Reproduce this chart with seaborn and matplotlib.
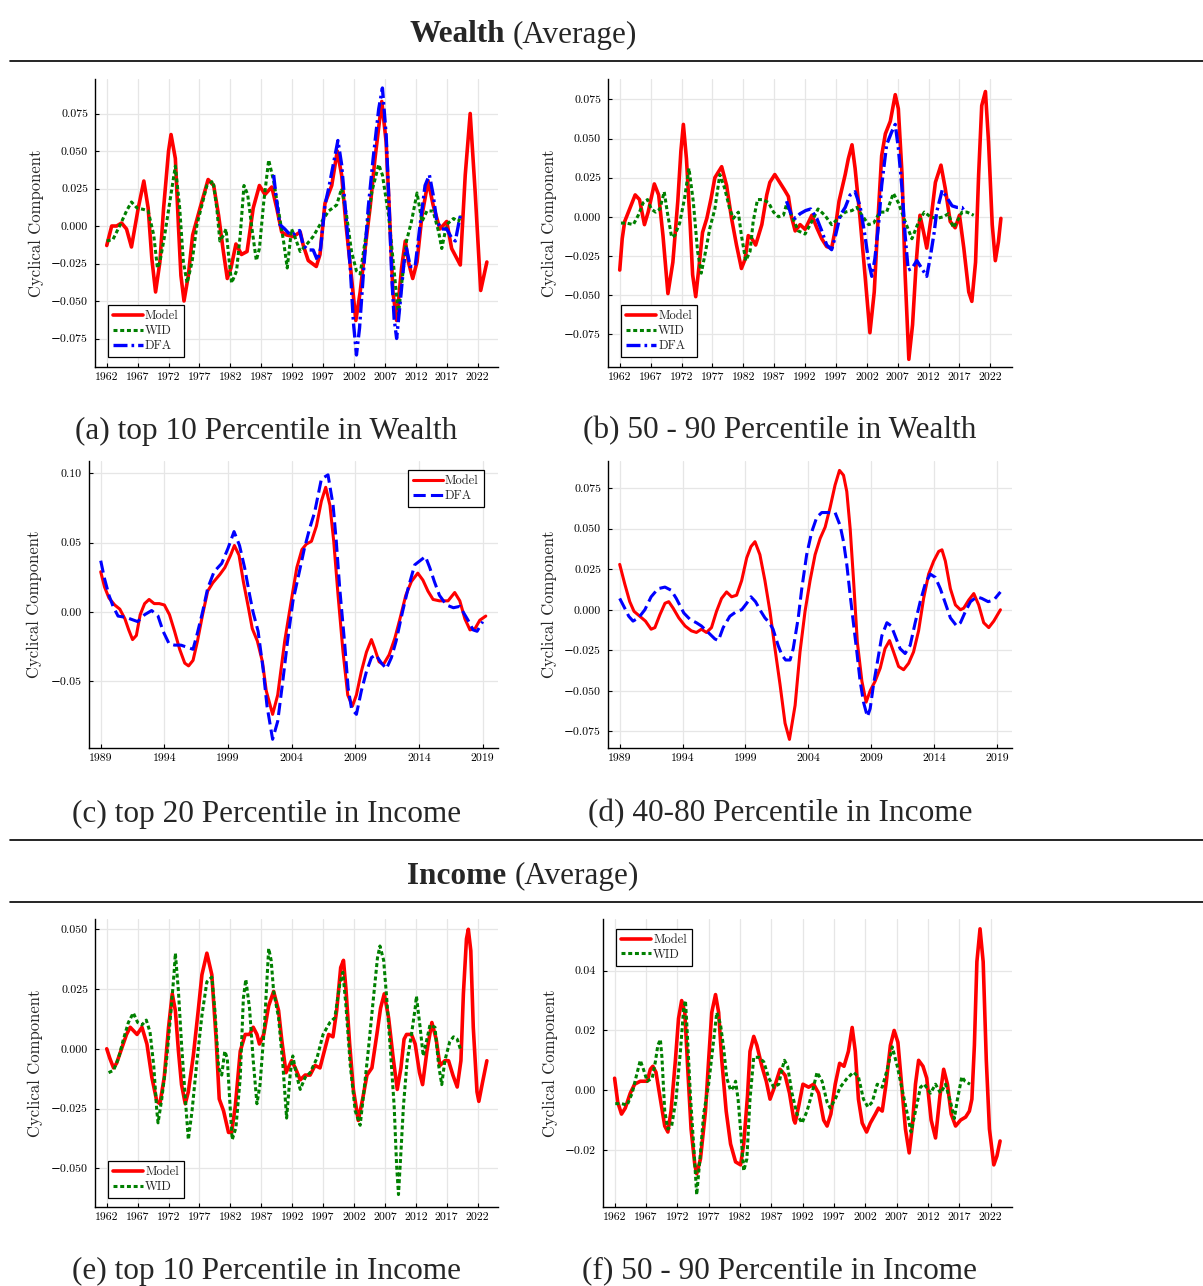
import numpy as np
import matplotlib
matplotlib.use("Agg")
import matplotlib.pyplot as plt
import seaborn as sns
from matplotlib.lines import Line2D
from matplotlib.ticker import FixedLocator, FuncFormatter

# ---------------- data ----------------
# (a) top 10 percentile in wealth
A_MODEL_YR = [1962, 1962.8, 1963.6, 1964.4, 1965.2, 1966.0, 1967.1, 1968.0, 1968.7, 1969.3, 1969.9, 1970.6, 1971.2, 1972.0, 1972.4, 1973.1, 1973.6, 1974.0, 1974.5, 1975.2, 1975.9, 1977.1, 1978.4, 1979.3, 1980.1, 1980.8, 1981.5, 1982.1, 1982.9, 1983.8, 1984.7, 1985.7, 1986.7, 1987.6, 1988.7, 1989.5, 1990.3, 1991.1, 1992.2, 1993.3, 1993.8, 1994.6, 1995.9, 1996.5, 1997.3, 1998.4, 1999.3, 2000.0, 2000.7, 2001.5, 2002.3, 2003.0, 2003.8, 2004.6, 2005.4, 2006.5, 2007.2, 2007.7, 2008.3, 2008.9, 2009.7, 2010.3, 2010.8, 2011.5, 2012.2, 2013.0, 2014.0, 2014.8, 2015.9, 2017.0, 2017.8, 2019.2, 2020.0, 2020.8, 2021.6, 2022.5, 2023.5]
A_MODEL = [-0.013, 0.000, 0.000, 0.002, -0.002, -0.014, 0.012, 0.030, 0.012, -0.022, -0.044, -0.024, 0.012, 0.050, 0.061, 0.045, 0.000, -0.033, -0.050, -0.033, -0.006, 0.012, 0.031, 0.027, 0.007, -0.015, -0.035, -0.028, -0.012, -0.019, -0.017, 0.012, 0.027, 0.021, 0.026, 0.012, -0.004, -0.006, -0.007, -0.004, -0.013, -0.023, -0.027, -0.019, 0.015, 0.027, 0.050, 0.034, 0.001, -0.030, -0.063, -0.044, -0.015, 0.012, 0.045, 0.083, 0.056, 0.012, -0.044, -0.063, -0.028, -0.010, -0.024, -0.035, -0.024, 0.007, 0.030, 0.014, -0.002, 0.003, -0.015, -0.026, 0.034, 0.075, 0.023, -0.043, -0.024]
A_WID_YR = [1962, 1963, 1964.2, 1965.2, 1966, 1966.9, 1968, 1968.7, 1969.6, 1970.2, 1970.6, 1971.3, 1972.2, 1973.1, 1973.8, 1974.4, 1975, 1975.8, 1976.6, 1977.4, 1978.2, 1979.2, 1979.8, 1980.3, 1980.9, 1981.3, 1981.7, 1982.2, 1983, 1983.6, 1984.2, 1984.8, 1985.5, 1986.2, 1986.7, 1987.4, 1988.2, 1989.0, 1989.8, 1990.6, 1991.2, 1991.9, 1992.5, 1993.3, 1994.4, 1995.4, 1996.8, 1997.9, 1999.2, 2000.0, 2000.8, 2001.6, 2002.4, 2003.0, 2003.8, 2004.9, 2006.0, 2006.6, 2007.6, 2008.4, 2009.2, 2009.7, 2010.5, 2011.3, 2012.2, 2013.0, 2013.8, 2014.8, 2015.7, 2016.2, 2017.0, 2018.1, 2018.9, 2019.3]
A_WID = [-0.010, -0.009, 0.001, 0.010, 0.016, 0.012, 0.011, 0.010, -0.006, -0.028, -0.024, -0.008, 0.016, 0.040, 0.012, -0.024, -0.038, -0.024, 0.001, 0.014, 0.027, 0.030, 0.012, -0.010, -0.006, -0.002, -0.019, -0.038, -0.030, -0.006, 0.027, 0.021, -0.002, -0.023, -0.015, 0.016, 0.044, 0.030, 0.010, -0.010, -0.028, -0.002, -0.008, -0.017, -0.012, -0.007, 0.003, 0.010, 0.014, 0.025, 0.007, -0.017, -0.030, -0.032, -0.010, 0.023, 0.041, 0.034, 0.007, -0.026, -0.059, -0.039, -0.010, 0.003, 0.022, 0.003, 0.010, 0.010, -0.004, -0.015, 0.001, 0.005, 0.003, 0.007]
A_DFA_YR = [1989.0, 1989.5, 1990.0, 1990.8, 1991.7, 1992.5, 1993.2, 1993.8, 1994.6, 1995.4, 1996.1, 1996.6, 1997.3, 1997.9, 1998.7, 1999.4, 2000.0, 2000.7, 2001.4, 2001.9, 2002.4, 2002.9, 2003.5, 2004.3, 2005.1, 2006.0, 2006.6, 2007.2, 2007.7, 2008.1, 2008.5, 2008.9, 2009.5, 2010.1, 2010.5, 2011.1, 2011.9, 2012.7, 2013.5, 2014.2, 2014.8, 2015.4, 2016.2, 2017.0, 2017.8, 2018.4, 2019.1, 2019.3]
A_DFA = [0.034, 0.016, 0.001, -0.002, -0.006, -0.005, -0.003, -0.013, -0.016, -0.016, -0.023, -0.015, 0.014, 0.025, 0.042, 0.057, 0.041, 0.007, -0.028, -0.064, -0.086, -0.068, -0.033, 0.012, 0.045, 0.078, 0.092, 0.061, 0.012, -0.033, -0.062, -0.075, -0.050, -0.024, -0.015, -0.027, -0.027, 0.001, 0.027, 0.034, 0.021, 0.003, -0.002, -0.002, -0.008, -0.010, 0.005, 0.008]

# (b) 50 - 90 percentile in wealth
B_MODEL_YR = [1962.0, 1962.4, 1962.8, 1963.6, 1964.5, 1965.2, 1966.0, 1966.6, 1967.6, 1968.3, 1969.0, 1969.8, 1970.6, 1971.4, 1971.9, 1972.3, 1972.8, 1973.4, 1973.8, 1974.3, 1974.8, 1975.4, 1976.1, 1976.8, 1977.4, 1978.5, 1979.3, 1980.1, 1980.9, 1981.7, 1982.3, 1982.8, 1983.4, 1984.0, 1985.0, 1985.8, 1986.3, 1987.1, 1987.9, 1988.7, 1989.3, 1989.8, 1990.4, 1991.2, 1992.0, 1993.1, 1993.9, 1994.7, 1995.5, 1996.3, 1996.8, 1997.5, 1998.5, 1999.0, 1999.6, 2000.1, 2000.9, 2001.7, 2002.5, 2003.2, 2003.9, 2004.4, 2005.0, 2005.8, 2006.6, 2007.1, 2007.7, 2008.2, 2008.8, 2009.4, 2010.0, 2010.6, 2011.2, 2011.7, 2012.4, 2013.1, 2014.0, 2014.7, 2015.5, 2016.3, 2017.0, 2017.7, 2018.5, 2019.0, 2019.6, 2020.1, 2020.6, 2021.2, 2021.7, 2022.3, 2022.8, 2023.3, 2023.7]
B_MODEL = [-0.034, -0.014, -0.003, 0.005, 0.014, 0.011, -0.005, 0.003, 0.021, 0.014, -0.012, -0.049, -0.029, 0.010, 0.042, 0.059, 0.037, -0.005, -0.037, -0.051, -0.033, -0.010, -0.001, 0.012, 0.025, 0.032, 0.020, -0.001, -0.018, -0.033, -0.027, -0.012, -0.014, -0.018, -0.005, 0.014, 0.022, 0.027, 0.022, 0.017, 0.013, 0.000, -0.009, -0.005, -0.008, 0.001, -0.007, -0.014, -0.019, -0.020, -0.010, 0.010, 0.027, 0.037, 0.046, 0.031, -0.001, -0.037, -0.074, -0.048, 0.005, 0.039, 0.053, 0.061, 0.078, 0.069, 0.027, -0.037, -0.091, -0.069, -0.029, 0.001, -0.010, -0.020, -0.001, 0.022, 0.033, 0.018, -0.003, -0.007, 0.001, -0.020, -0.048, -0.054, -0.029, 0.027, 0.071, 0.080, 0.048, -0.005, -0.028, -0.016, -0.001]
B_WID_YR = [1962.2, 1963.1, 1964.2, 1965.0, 1965.8, 1966.5, 1967.1, 1967.8, 1968.5, 1969.2, 1969.7, 1970.4, 1970.9, 1971.7, 1972.5, 1973.2, 1973.9, 1974.6, 1975.2, 1975.9, 1976.6, 1977.4, 1978.2, 1979.0, 1979.8, 1980.4, 1981.2, 1981.7, 1982.4, 1983.1, 1983.6, 1984.3, 1985.2, 1986.1, 1986.9, 1987.7, 1988.5, 1989.0, 1989.8, 1990.9, 1992.0, 1993.1, 1994.1, 1995.2, 1996.3, 1997.4, 1998.5, 1999.6, 2000.4, 2001.2, 2002.3, 2003.1, 2004.1, 2005.2, 2006.3, 2007.1, 2008.2, 2009.3, 2010.4, 2011.3, 2012.3, 2013.3, 2014.4, 2015.2, 2016.0, 2016.9, 2017.4, 2018.2, 2019.3]
B_WID = [-0.004, -0.004, -0.005, 0.001, 0.009, 0.011, 0.005, 0.003, 0.005, 0.016, 0.003, -0.013, -0.012, -0.004, 0.012, 0.031, 0.010, -0.022, -0.036, -0.022, -0.007, 0.005, 0.027, 0.018, 0.005, -0.001, 0.003, -0.012, -0.028, -0.022, -0.003, 0.011, 0.011, 0.009, 0.003, 0.000, 0.001, 0.008, 0.001, -0.009, -0.011, -0.003, 0.005, 0.001, -0.005, -0.001, 0.003, 0.004, 0.006, 0.001, -0.005, -0.004, 0.003, 0.003, 0.015, 0.009, -0.003, -0.014, -0.003, 0.003, 0.000, -0.001, 0.000, 0.002, -0.007, -0.001, 0.003, 0.003, 0.001]
B_DFA_YR = [1989.0, 1989.8, 1990.4, 1991.2, 1992.1, 1992.9, 1993.9, 1994.7, 1995.5, 1996.3, 1996.8, 1997.7, 1998.5, 1999.3, 2000.1, 2000.9, 2001.7, 2002.3, 2002.8, 2003.3, 2003.9, 2004.4, 2005.2, 2006.0, 2006.6, 2007.1, 2007.7, 2008.2, 2008.7, 2009.3, 2010.1, 2010.9, 2011.7, 2012.3, 2012.9, 2013.3, 2014.2, 2015.0, 2015.8, 2016.6, 2017.4, 2017.9]
B_DFA = [0.010, 0.001, -0.001, 0.002, 0.004, 0.005, -0.001, -0.009, -0.018, -0.021, -0.014, 0.001, 0.006, 0.014, 0.016, 0.007, -0.012, -0.029, -0.038, -0.027, -0.005, 0.020, 0.046, 0.054, 0.059, 0.044, 0.018, -0.012, -0.034, -0.033, -0.028, -0.033, -0.038, -0.025, -0.010, 0.003, 0.017, 0.012, 0.007, 0.006, 0.006, 0.003]

# (c) top 20 percentile in income
C_MODEL_YR = [1989.0, 1989.3, 1989.65, 1990.1, 1990.5, 1990.9, 1991.2, 1991.5, 1991.8, 1992.1, 1992.45, 1992.8, 1993.2, 1993.6, 1994.0, 1994.4, 1994.8, 1995.2, 1995.6, 1995.9, 1996.25, 1996.6, 1997.0, 1997.4, 1997.8, 1998.35, 1998.75, 1999.2, 1999.5, 1999.86, 2000.2, 2000.6, 2000.9, 2001.3, 2001.7, 2002.0, 2002.5, 2002.9, 2003.45, 2004.0, 2004.4, 2004.8, 2005.15, 2005.55, 2005.94, 2006.33, 2006.67, 2007.0, 2007.3, 2007.64, 2008.03, 2008.4, 2008.77, 2009.08, 2009.47, 2009.87, 2010.26, 2010.5, 2010.86, 2011.2, 2011.65, 2012.1, 2012.5, 2012.96, 2013.4, 2013.9, 2014.3, 2014.7, 2015.1, 2015.6, 2016.28, 2016.8, 2017.2, 2017.6, 2018.0, 2018.4, 2018.77, 2019.24]
C_MODEL = [0.029, 0.018, 0.010, 0.005, 0.002, -0.005, -0.013, -0.020, -0.017, -0.002, 0.006, 0.009, 0.006, 0.006, 0.005, -0.002, -0.014, -0.027, -0.037, -0.039, -0.035, -0.021, -0.002, 0.015, 0.021, 0.027, 0.032, 0.041, 0.048, 0.041, 0.022, 0.003, -0.012, -0.021, -0.036, -0.057, -0.074, -0.060, -0.021, 0.010, 0.032, 0.045, 0.049, 0.051, 0.062, 0.080, 0.090, 0.077, 0.051, 0.012, -0.029, -0.060, -0.068, -0.060, -0.043, -0.029, -0.020, -0.026, -0.036, -0.038, -0.031, -0.019, -0.005, 0.012, 0.022, 0.028, 0.023, 0.015, 0.009, 0.008, 0.008, 0.014, 0.008, -0.005, -0.013, -0.012, -0.006, -0.003]
C_DFA_YR = [1989.0, 1989.3, 1989.65, 1989.97, 1990.36, 1991.0, 1991.9, 1992.45, 1993.0, 1993.5, 1993.9, 1994.37, 1994.8, 1995.3, 1996.25, 1996.6, 1997.0, 1997.4, 1997.9, 1998.5, 1999.0, 1999.47, 1999.9, 2000.3, 2000.7, 2000.96, 2001.36, 2001.75, 2002.06, 2002.5, 2002.9, 2003.3, 2003.7, 2004.1, 2004.6, 2005.0, 2005.4, 2005.8, 2006.33, 2006.85, 2007.25, 2007.5, 2007.77, 2008.17, 2008.43, 2008.7, 2009.08, 2009.47, 2009.87, 2010.26, 2010.6, 2011.05, 2011.44, 2011.83, 2012.2, 2012.7, 2013.14, 2013.66, 2014.5, 2014.84, 2015.2, 2015.6, 2016.15, 2016.7, 2017.2, 2017.85, 2018.24, 2018.56, 2019.0]
C_DFA = [0.037, 0.024, 0.012, 0.004, -0.003, -0.004, -0.007, -0.002, 0.001, -0.003, -0.014, -0.023, -0.024, -0.024, -0.027, -0.015, 0.000, 0.017, 0.029, 0.035, 0.046, 0.058, 0.048, 0.032, 0.012, 0.000, -0.014, -0.041, -0.068, -0.092, -0.079, -0.050, -0.019, 0.008, 0.029, 0.046, 0.060, 0.072, 0.096, 0.099, 0.077, 0.051, 0.017, -0.024, -0.055, -0.070, -0.074, -0.057, -0.043, -0.033, -0.031, -0.037, -0.041, -0.033, -0.021, 0.000, 0.017, 0.034, 0.040, 0.032, 0.022, 0.012, 0.005, 0.003, 0.004, -0.006, -0.013, -0.014, -0.007]

# (d) 40-80 percentile in income
D_MODEL_YR = [1989.0, 1989.4, 1989.8, 1990.14, 1990.6, 1991.05, 1991.5, 1991.8, 1992.2, 1992.6, 1992.9, 1993.25, 1993.7, 1994.2, 1994.7, 1995.1, 1995.5, 1995.9, 1996.3, 1996.7, 1997.1, 1997.5, 1997.9, 1998.3, 1998.7, 1999.1, 1999.44, 1999.76, 2000.15, 2000.55, 2000.95, 2001.35, 2001.75, 2002.15, 2002.5, 2002.95, 2003.34, 2003.74, 2004.14, 2004.54, 2004.94, 2005.34, 2005.73, 2006.13, 2006.48, 2006.8, 2007.06, 2007.33, 2007.6, 2007.9, 2008.26, 2008.6, 2008.92, 2009.32, 2009.72, 2010.1, 2010.46, 2010.78, 2011.18, 2011.58, 2011.98, 2012.37, 2012.77, 2013.17, 2013.57, 2013.97, 2014.37, 2014.63, 2014.9, 2015.3, 2015.7, 2016.1, 2016.36, 2016.76, 2017.16, 2017.55, 2017.95, 2018.35, 2018.75, 2019.28]
D_MODEL = [0.028, 0.016, 0.005, -0.001, -0.004, -0.007, -0.012, -0.011, -0.003, 0.004, 0.005, 0.001, -0.005, -0.010, -0.013, -0.014, -0.012, -0.014, -0.011, -0.001, 0.007, 0.011, 0.008, 0.009, 0.018, 0.032, 0.039, 0.042, 0.034, 0.018, -0.001, -0.024, -0.046, -0.070, -0.080, -0.059, -0.026, -0.001, 0.018, 0.034, 0.044, 0.051, 0.063, 0.077, 0.086, 0.083, 0.073, 0.050, 0.018, -0.020, -0.044, -0.057, -0.050, -0.044, -0.036, -0.024, -0.019, -0.026, -0.035, -0.037, -0.033, -0.026, -0.013, 0.007, 0.022, 0.030, 0.036, 0.037, 0.030, 0.013, 0.003, 0.000, 0.001, 0.006, 0.010, 0.003, -0.008, -0.011, -0.007, 0.000]
D_DFA_YR = [1989.0, 1989.4, 1989.72, 1990.06, 1990.5, 1991.0, 1991.5, 1992.05, 1992.6, 1993.1, 1993.5, 1994.1, 1994.6, 1995.1, 1995.5, 1996.04, 1996.57, 1996.85, 1997.23, 1997.76, 1998.3, 1998.7, 1999.1, 1999.44, 1999.8, 2000.23, 2000.55, 2000.9, 2001.2, 2001.6, 2001.9, 2002.2, 2002.55, 2002.8, 2003.2, 2003.48, 2003.87, 2004.27, 2004.67, 2005.07, 2005.6, 2006.13, 2006.53, 2006.8, 2007.06, 2007.33, 2007.6, 2007.86, 2008.12, 2008.39, 2008.7, 2008.92, 2009.19, 2009.5, 2009.85, 2010.25, 2010.6, 2010.9, 2011.3, 2011.7, 2012.1, 2012.5, 2012.9, 2013.3, 2013.7, 2014.1, 2014.5, 2014.9, 2015.3, 2015.8, 2016.1, 2016.5, 2016.9, 2017.4, 2017.8, 2018.3, 2018.75, 2019.28]
D_DFA = [0.007, 0.001, -0.004, -0.007, -0.005, 0.000, 0.008, 0.013, 0.014, 0.012, 0.007, -0.002, -0.006, -0.008, -0.010, -0.014, -0.018, -0.019, -0.011, -0.004, -0.001, 0.000, 0.004, 0.008, 0.005, -0.001, -0.005, -0.008, -0.012, -0.022, -0.028, -0.031, -0.031, -0.024, -0.005, 0.013, 0.034, 0.048, 0.057, 0.060, 0.060, 0.060, 0.052, 0.042, 0.028, 0.009, -0.009, -0.026, -0.044, -0.057, -0.066, -0.061, -0.046, -0.032, -0.016, -0.008, -0.010, -0.016, -0.024, -0.027, -0.022, -0.008, 0.005, 0.016, 0.022, 0.020, 0.013, 0.004, -0.005, -0.010, -0.008, -0.001, 0.005, 0.008, 0.007, 0.005, 0.006, 0.011]

# (e) top 10 percentile in income
E_MODEL_YR = [1962.0, 1962.5, 1963.1, 1963.6, 1964.4, 1965.2, 1965.8, 1966.9, 1967.7, 1968.5, 1969.3, 1970.1, 1970.6, 1971.3, 1972.0, 1972.6, 1973.1, 1973.6, 1974.1, 1974.7, 1975.2, 1976.0, 1976.8, 1977.4, 1978.2, 1979.0, 1979.7, 1980.2, 1980.9, 1981.7, 1982.2, 1982.8, 1983.6, 1984.4, 1985.1, 1985.7, 1986.3, 1986.7, 1987.4, 1988.2, 1989.0, 1989.8, 1990.3, 1991.0, 1991.9, 1992.5, 1993.3, 1994.1, 1994.9, 1995.7, 1996.5, 1997.3, 1997.9, 1998.6, 1999.2, 1999.85, 2000.3, 2000.7, 2001.3, 2001.9, 2002.7, 2003.4, 2004.1, 2004.9, 2005.7, 2006.3, 2006.9, 2007.6, 2008.3, 2009.0, 2009.6, 2010.1, 2010.5, 2011.3, 2011.9, 2012.6, 2013.1, 2013.8, 2014.6, 2015.3, 2015.9, 2016.7, 2017.3, 2018.0, 2018.7, 2019.3, 2019.7, 2020.2, 2020.5, 2020.9, 2021.3, 2021.9, 2022.2, 2022.8, 2023.5]
E_MODEL = [0.000, -0.004, -0.008, -0.006, 0.000, 0.006, 0.009, 0.006, 0.009, 0.002, -0.012, -0.022, -0.023, -0.012, 0.009, 0.023, 0.016, -0.001, -0.015, -0.023, -0.018, -0.003, 0.016, 0.031, 0.040, 0.031, 0.004, -0.021, -0.026, -0.035, -0.035, -0.024, -0.001, 0.006, 0.006, 0.009, 0.006, 0.002, 0.006, 0.018, 0.024, 0.016, 0.004, -0.010, -0.005, -0.008, -0.013, -0.011, -0.011, -0.007, -0.008, 0.000, 0.006, 0.005, 0.016, 0.034, 0.037, 0.025, 0.002, -0.017, -0.030, -0.021, -0.011, -0.008, 0.006, 0.017, 0.023, 0.013, -0.003, -0.017, -0.008, 0.004, 0.006, 0.006, 0.002, -0.010, -0.015, -0.001, 0.011, 0.004, -0.007, -0.005, -0.005, -0.011, -0.016, -0.005, 0.023, 0.046, 0.050, 0.041, 0.009, -0.018, -0.022, -0.014, -0.005]
E_WID_YR = [1962.3, 1963.1, 1963.9, 1964.7, 1965.5, 1966.3, 1967.0, 1967.7, 1968.4, 1969.0, 1969.6, 1970.1, 1970.3, 1970.9, 1971.7, 1972.4, 1972.9, 1973.1, 1973.6, 1974.1, 1974.8, 1975.2, 1975.8, 1976.6, 1977.4, 1978.2, 1979.0, 1979.5, 1980.1, 1980.6, 1981.1, 1981.5, 1982.0, 1982.3, 1982.9, 1983.6, 1984.1, 1984.5, 1985.1, 1985.7, 1986.3, 1986.8, 1987.5, 1988.2, 1988.6, 1989.0, 1989.8, 1990.5, 1991.1, 1991.7, 1992.1, 1992.7, 1993.3, 1994.1, 1994.9, 1996.0, 1997.0, 1998.1, 1998.9, 1999.7, 2000.2, 2000.7, 2001.4, 2002.2, 2003.0, 2003.6, 2004.3, 2005.1, 2005.8, 2006.2, 2006.8, 2007.3, 2007.9, 2008.5, 2008.9, 2009.2, 2009.6, 2010.0, 2010.6, 2011.3, 2011.9, 2012.1, 2012.7, 2013.2, 2013.8, 2014.3, 2015.1, 2015.7, 2016.2, 2016.7, 2017.5, 2018.1, 2018.7, 2019.2]
E_WID = [-0.010, -0.009, -0.004, 0.004, 0.011, 0.015, 0.011, 0.010, 0.012, 0.007, -0.007, -0.026, -0.031, -0.021, -0.004, 0.016, 0.032, 0.040, 0.024, 0.002, -0.024, -0.038, -0.026, -0.005, 0.014, 0.028, 0.030, 0.016, -0.008, -0.011, -0.001, -0.004, -0.026, -0.038, -0.033, -0.012, 0.021, 0.029, 0.017, -0.005, -0.023, -0.015, 0.009, 0.042, 0.037, 0.024, 0.013, -0.007, -0.029, -0.010, -0.003, -0.011, -0.017, -0.012, -0.010, -0.004, 0.006, 0.011, 0.013, 0.027, 0.032, 0.018, -0.007, -0.026, -0.032, -0.018, -0.001, 0.020, 0.038, 0.043, 0.037, 0.021, -0.001, -0.024, -0.049, -0.061, -0.043, -0.024, -0.005, 0.006, 0.017, 0.022, 0.009, -0.003, 0.004, 0.010, 0.009, -0.007, -0.015, -0.005, 0.003, 0.005, 0.004, 0.000]

# (f) 50 - 90 percentile in income
F_MODEL_YR = [1962.0, 1962.5, 1963.1, 1963.7, 1964.5, 1965.2, 1966.1, 1967.2, 1967.7, 1968.1, 1968.6, 1969.3, 1970.0, 1970.5, 1971.0, 1971.7, 1972.2, 1972.7, 1973.2, 1973.7, 1974.2, 1974.8, 1975.1, 1975.7, 1976.5, 1977.0, 1977.5, 1978.1, 1978.6, 1979.1, 1979.8, 1980.5, 1981.3, 1982.1, 1982.6, 1983.2, 1983.6, 1984.2, 1984.7, 1985.5, 1986.2, 1986.8, 1987.5, 1988.4, 1989.2, 1989.9, 1990.6, 1990.8, 1991.4, 1992.05, 1992.95, 1993.75, 1994.55, 1995.35, 1995.9, 1996.5, 1997.2, 1997.9, 1998.6, 1999.3, 1999.9, 2000.4, 2000.9, 2001.5, 2002.2, 2002.8, 2003.6, 2004.1, 2004.7, 2005.3, 2006.0, 2006.6, 2007.2, 2007.7, 2008.4, 2009.0, 2009.5, 2010.0, 2010.5, 2011.2, 2011.8, 2012.5, 2013.2, 2013.9, 2014.5, 2015.1, 2015.7, 2016.4, 2017.2, 2018.0, 2018.6, 2019.0, 2019.4, 2019.8, 2020.3, 2020.8, 2021.3, 2021.8, 2022.5, 2023.0, 2023.5]
F_MODEL = [0.004, -0.004, -0.008, -0.006, -0.001, 0.002, 0.003, 0.003, 0.007, 0.008, 0.006, -0.003, -0.012, -0.014, -0.007, 0.010, 0.024, 0.030, 0.026, 0.006, -0.013, -0.025, -0.028, -0.023, -0.007, 0.010, 0.026, 0.032, 0.026, 0.010, -0.007, -0.018, -0.024, -0.025, -0.018, -0.002, 0.013, 0.018, 0.015, 0.008, 0.003, -0.003, 0.001, 0.007, 0.005, -0.001, -0.010, -0.011, -0.005, 0.002, 0.001, 0.002, -0.001, -0.010, -0.012, -0.008, 0.002, 0.009, 0.008, 0.013, 0.021, 0.013, -0.003, -0.011, -0.014, -0.011, -0.008, -0.006, -0.007, 0.002, 0.015, 0.020, 0.016, 0.004, -0.013, -0.021, -0.012, 0.002, 0.010, 0.008, 0.004, -0.010, -0.016, -0.002, 0.007, 0.002, -0.008, -0.012, -0.010, -0.009, -0.007, -0.003, 0.015, 0.043, 0.054, 0.043, 0.010, -0.013, -0.025, -0.022, -0.017]
F_WID_YR = [1962.1, 1963.1, 1964.0, 1964.8, 1965.5, 1966.1, 1966.6, 1967.2, 1968.0, 1968.5, 1968.9, 1969.3, 1969.55, 1970.0, 1970.5, 1971.1, 1971.8, 1972.5, 1973.0, 1973.3, 1973.5, 1974.1, 1974.6, 1975.1, 1975.7, 1976.2, 1977.0, 1977.6, 1978.3, 1978.9, 1979.4, 1979.9, 1980.5, 1981.0, 1981.3, 1981.7, 1982.2, 1982.6, 1983.1, 1983.6, 1984.2, 1985.0, 1985.8, 1986.6, 1987.4, 1988.2, 1988.7, 1989.1, 1989.6, 1990.3, 1991.1, 1991.9, 1992.7, 1993.5, 1994.3, 1995.1, 1995.9, 1996.4, 1997.2, 1998.0, 1999.1, 2000.1, 2000.9, 2001.7, 2002.4, 2003.1, 2003.9, 2004.7, 2005.5, 2006.3, 2007.1, 2007.8, 2008.6, 2009.3, 2010.0, 2010.8, 2011.4, 2012.4, 2013.2, 2014.0, 2014.8, 2015.6, 2016.2, 2016.7, 2017.4, 2017.9, 2018.7]
F_WID = [-0.0045, -0.0045, -0.005, -0.001, 0.005, 0.010, 0.007, 0.003, 0.004, 0.0095, 0.015, 0.017, 0.011, -0.007, -0.013, -0.012, -0.003, 0.013, 0.027, 0.030, 0.023, -0.002, -0.018, -0.035, -0.021, -0.008, 0.002, 0.013, 0.026, 0.022, 0.014, 0.004, 0.000, 0.001, 0.003, -0.003, -0.016, -0.027, -0.023, -0.003, 0.011, 0.011, 0.0095, 0.004, 0.001, 0.002, 0.007, 0.010, 0.008, -0.001, -0.008, -0.011, -0.007, -0.001, 0.006, 0.003, -0.004, -0.006, -0.003, 0.001, 0.004, 0.006, 0.0045, -0.003, -0.0056, -0.004, 0.002, 0.001, 0.007, 0.0145, 0.008, 0.001, -0.007, -0.014, -0.007, 0.001, 0.002, -0.001, 0.002, -0.001, 0.002, -0.004, -0.0095, -0.003, 0.0045, 0.003, 0.002]

LONG_TICKS = [1962, 1967, 1972, 1977, 1982, 1987, 1992, 1997, 2002, 2007, 2012, 2017, 2022]
SHORT_TICKS = [1989, 1994, 1999, 2004, 2009, 2014, 2019]

TITLES = [("Wealth", "(Average)"), ("Income", "(Average)")]
CAPTIONS = ["(a) top 10 Percentile in Wealth", "(b) 50 - 90 Percentile in Wealth",
            "(c) top 20 Percentile in Income", "(d) 40-80 Percentile in Income",
            "(e) top 10 Percentile in Income", "(f) 50 - 90 Percentile in Income"]
YLABEL = "Cyclical Component"

# ---------------- styling ----------------
sns.set_theme(style="white")
plt.rcParams['font.family'] = ['cmr10', 'DejaVu Serif']
plt.rcParams['axes.unicode_minus'] = True
plt.rcParams['axes.formatter.use_mathtext'] = False
plt.rcParams['lines.solid_joinstyle'] = 'round'
plt.rcParams['lines.dash_joinstyle'] = 'round'

RED, GREEN, BLUE = "#ff0000", "#008000", "#0000ff"
CAP_FONT = ['Liberation Serif', 'DejaVu Serif']

W, H = 1203, 1286
fig = plt.figure(figsize=(W / 100, H / 100), dpi=100)


def add_ax(x0, y0, x1, y1):
    return fig.add_axes([x0 / W, 1 - y1 / H, (x1 - x0) / W, (y1 - y0) / H])


def style_ax(ax, xlim, ylim, xticks, yticks, ydec, ylab_x):
    ax.set_xlim(*xlim)
    ax.set_ylim(*ylim)
    ax.xaxis.set_major_locator(FixedLocator(xticks))
    ax.yaxis.set_major_locator(FixedLocator(yticks))
    ax.xaxis.set_major_formatter(FuncFormatter(lambda v, p: f"{int(round(v))}"))
    ax.yaxis.set_major_formatter(FuncFormatter(
        lambda v, p: (f"{v:.{ydec}f}").replace("-", "\u2212") if abs(v) > 1e-12 else f"{0:.{ydec}f}"))
    for s in ["top", "right"]:
        ax.spines[s].set_visible(False)
    for s in ["left", "bottom"]:
        ax.spines[s].set_color("black")
        ax.spines[s].set_linewidth(1.0)
    ax.grid(True, color="#e6e6e6", linewidth=0.9)
    ax.set_axisbelow(True)
    ax.tick_params(axis="both", direction="in", length=3, width=0.8, colors="black",
                   labelsize=8.5, bottom=True, left=True)
    ax.tick_params(axis="y", pad=5)
    ax.tick_params(axis="x", pad=4)
    ax.set_xlabel("")
    ax.set_ylabel("")
    ax.text(ylab_x, 0.5, YLABEL, transform=ax.transAxes, rotation=90,
            ha="center", va="center", fontsize=12)
    ax.set_facecolor("white")


def legend(ax, loc, anchor):
    lg = ax.legend(loc=loc, bbox_to_anchor=anchor, frameon=True, fancybox=False,
                   edgecolor="black", framealpha=1, fontsize=9, handlelength=2.4,
                   handletextpad=0.15, borderpad=0.4, labelspacing=0.22, borderaxespad=0)
    lg.get_frame().set_linewidth(0.9)


DOT = (0, (1.3, 0.9))
DASHDOT = (0, (4.2, 1.2, 0.8, 1.2))
DASH = (0, (4.0, 1.7))

# (a)
ax = add_ax(95, 79, 498, 367)
sns.lineplot(x=A_MODEL_YR, y=A_MODEL, ax=ax, color=RED, lw=2.6, label="Model", sort=False)
sns.lineplot(x=A_WID_YR, y=A_WID, ax=ax, color=GREEN, lw=2.2, linestyle=DOT, label="WID", sort=False)
sns.lineplot(x=A_DFA_YR, y=A_DFA, ax=ax, color=BLUE, lw=2.4, linestyle=DASHDOT, label="DFA", sort=False)
style_ax(ax, (1960.1, 2025.3), (-0.094, 0.098), LONG_TICKS,
         [-0.075, -0.05, -0.025, 0, 0.025, 0.05, 0.075], 3, -0.146)
legend(ax, "lower left", (0.032, 0.035))

# (b)
ax = add_ax(608, 79, 1012, 367)
sns.lineplot(x=B_MODEL_YR, y=B_MODEL, ax=ax, color=RED, lw=2.6, label="Model", sort=False)
sns.lineplot(x=B_WID_YR, y=B_WID, ax=ax, color=GREEN, lw=2.2, linestyle=DOT, label="WID", sort=False)
sns.lineplot(x=B_DFA_YR, y=B_DFA, ax=ax, color=BLUE, lw=2.4, linestyle=DASHDOT, label="DFA", sort=False)
style_ax(ax, (1960.1, 2025.5), (-0.0959, 0.088), LONG_TICKS,
         [-0.075, -0.05, -0.025, 0, 0.025, 0.05, 0.075], 3, -0.1445)
legend(ax, "lower left", (0.033, 0.035))

# (c)
ax = add_ax(89, 461, 498, 748)
sns.lineplot(x=C_MODEL_YR, y=C_MODEL, ax=ax, color=RED, lw=2.2, label="Model", sort=False)
sns.lineplot(x=C_DFA_YR, y=C_DFA, ax=ax, color=BLUE, lw=2.2, linestyle=DASH, label="DFA", sort=False)
style_ax(ax, (1988.08, 2020.2), (-0.0983, 0.109), SHORT_TICKS,
         [-0.05, 0, 0.05, 0.10], 2, -0.133)
legend(ax, "upper right", (0.965, 0.969))

# (d)
ax = add_ax(608, 461, 1012, 748)
sns.lineplot(x=D_MODEL_YR, y=D_MODEL, ax=ax, color=RED, lw=2.2, sort=False)
sns.lineplot(x=D_DFA_YR, y=D_DFA, ax=ax, color=BLUE, lw=2.2, linestyle=DASH, sort=False)
style_ax(ax, (1988.07, 2020.2), (-0.0853, 0.0918), SHORT_TICKS,
         [-0.075, -0.05, -0.025, 0, 0.025, 0.05, 0.075], 3, -0.1445)
if ax.get_legend() is not None:
    ax.get_legend().remove()

# (e)
ax = add_ax(95, 919, 498, 1207)
sns.lineplot(x=E_MODEL_YR, y=E_MODEL, ax=ax, color=RED, lw=2.6, label="Model", sort=False)
sns.lineplot(x=E_WID_YR, y=E_WID, ax=ax, color=GREEN, lw=2.2, linestyle=DOT, label="WID", sort=False)
style_ax(ax, (1960.1, 2025.3), (-0.0662, 0.0543), LONG_TICKS,
         [-0.05, -0.025, 0, 0.025, 0.05], 3, -0.149)
legend(ax, "lower left", (0.033, 0.031))

# (f)
ax = add_ax(603, 919, 1012, 1207)
sns.lineplot(x=F_MODEL_YR, y=F_MODEL, ax=ax, color=RED, lw=2.6, label="Model", sort=False)
sns.lineplot(x=F_WID_YR, y=F_WID, ax=ax, color=GREEN, lw=2.2, linestyle=DOT, label="WID", sort=False)
style_ax(ax, (1960.15, 2025.4), (-0.0391, 0.0573), LONG_TICKS,
         [-0.02, 0, 0.02, 0.04], 2, -0.129)
legend(ax, "upper left", (0.0325, 0.966))

# ---------------- section titles, rules, captions ----------------
renderer = fig.canvas.get_renderer()


def mixed_title(cx, cy, bold, rest, size=22.5):
    t1 = fig.text(0, 0, bold, fontsize=size, fontweight="bold", family=CAP_FONT,
                  ha="left", va="center")
    t2 = fig.text(0, 0, rest, fontsize=size, family=CAP_FONT, ha="left", va="center")
    w1 = t1.get_window_extent(renderer).width
    w2 = t2.get_window_extent(renderer).width
    gap = 0.25 * size * 100 / 72
    x0 = cx - (w1 + gap + w2) / 2
    t1.set_position((x0 / W, 1 - cy / H))
    t2.set_position(((x0 + w1 + gap) / W, 1 - cy / H))


mixed_title(523, 35, *TITLES[0])
mixed_title(523, 876, *TITLES[1])

for yy in (61, 840, 902):
    fig.add_artist(Line2D([10 / W, 1.0], [1 - yy / H] * 2, transform=fig.transFigure,
                          color="black", linewidth=1.2))

cap_pos = [(266.5, 431), (779.5, 431), (266.5, 814), (780, 814), (266.5, 1271), (779.5, 1271)]
for (cx, cy), txt in zip(cap_pos, CAPTIONS):
    fig.text(cx / W, 1 - cy / H, txt, fontsize=22.5, family=CAP_FONT, ha="center", va="center")

fig.savefig("out.png", dpi=100, facecolor="white")
